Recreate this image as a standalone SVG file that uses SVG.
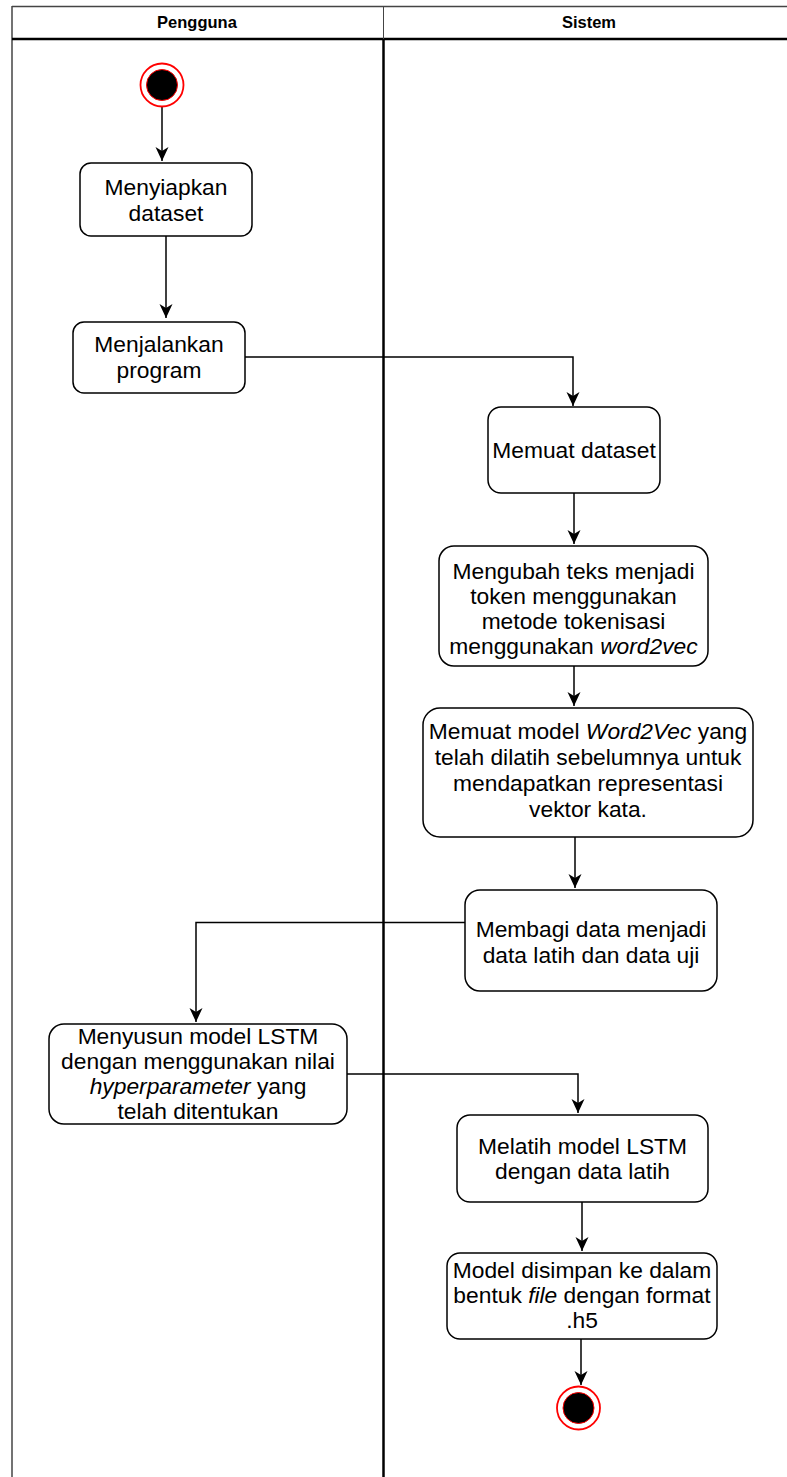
<svg xmlns="http://www.w3.org/2000/svg" width="787" height="1477" viewBox="0 0 787 1477">
  <style>
    .lbl { font-family: "Liberation Sans", Arial, sans-serif; font-size: 22.8px; fill: #000; text-anchor: middle; }
    .hdr { font-family: "Liberation Sans", Arial, sans-serif; font-size: 16.5px; font-weight: bold; fill: #000; text-anchor: middle; }
    .act { fill: #fff; stroke: #000; stroke-width: 1.5; }
    .edge { fill: none; stroke: #000; stroke-width: 1.5; }
    .ring { fill: #fff; stroke: #ff0000; stroke-width: 1.8; }
    .dot { fill: #000; stroke: #ff0000; stroke-width: 1; }
    .it { font-style: italic; }
  </style>
  <defs>
    <marker id="arrow" viewBox="0 0 14 14" refX="14" refY="7" markerWidth="14" markerHeight="14" markerUnits="userSpaceOnUse" orient="auto">
      <path d="M0,0.5 L14,7 L0,13.5 L4,7 Z" fill="#000"/>
    </marker>
  </defs>

  <rect width="787" height="1477" fill="#fff"/>

  <!-- swimlane pool -->
  <g id="pool">
    <line x1="12" y1="6.5" x2="787" y2="6.5" stroke="#444" stroke-width="1.5"/>
    <line x1="12" y1="6" x2="12" y2="1477" stroke="#444" stroke-width="1.5"/>
    <line x1="12" y1="39" x2="787" y2="39" stroke="#000" stroke-width="2.5"/>
    <line x1="383.5" y1="6" x2="383.5" y2="39" stroke="#444" stroke-width="1"/>
    <line x1="383.5" y1="39" x2="383.5" y2="1477" stroke="#000" stroke-width="2.5"/>
    <text class="hdr" x="197" y="28">Pengguna</text>
    <text class="hdr" x="589" y="28">Sistem</text>
  </g>

  <!-- connectors -->
  <g id="connectors">
    <path class="edge" d="M162,107 L162,161" marker-end="url(#arrow)"/>
    <path class="edge" d="M166,236 L166,318" marker-end="url(#arrow)"/>
    <path class="edge" d="M245,357 L573,357 L573,406" marker-end="url(#arrow)"/>
    <path class="edge" d="M574,493 L574,544" marker-end="url(#arrow)"/>
    <path class="edge" d="M574,666 L574,706" marker-end="url(#arrow)"/>
    <path class="edge" d="M575,837 L575,888" marker-end="url(#arrow)"/>
    <path class="edge" d="M465,922.5 L196,922.5 L196,1022" marker-end="url(#arrow)"/>
    <path class="edge" d="M347,1074 L578,1074 L578,1113" marker-end="url(#arrow)"/>
    <path class="edge" d="M582,1202 L582,1251" marker-end="url(#arrow)"/>
    <path class="edge" d="M581,1339 L581,1385" marker-end="url(#arrow)"/>
  </g>

  <g id="start">
    <circle class="ring" cx="162" cy="85" r="21.5"/>
    <circle class="dot" cx="162" cy="85" r="15.5"/>
  </g>

  <g id="menyiapkan">
    <rect class="act" x="80" y="163" width="172" height="73" rx="11"/>
    <text class="lbl" x="166" y="194.5">Menyiapkan</text>
    <text class="lbl" x="166" y="220.5">dataset</text>
  </g>

  <g id="menjalankan">
    <rect class="act" x="73" y="322" width="172" height="71" rx="11"/>
    <text class="lbl" x="159" y="352">Menjalankan</text>
    <text class="lbl" x="159" y="378">program</text>
  </g>

  <g id="memuat-dataset">
    <rect class="act" x="488" y="407" width="172" height="86" rx="13"/>
    <text class="lbl" x="574" y="458">Memuat dataset</text>
  </g>

  <g id="mengubah">
    <rect class="act" x="439" y="546" width="269" height="120" rx="15"/>
    <text class="lbl" x="573.5" y="579">Mengubah teks menjadi</text>
    <text class="lbl" x="573.5" y="604">token menggunakan</text>
    <text class="lbl" x="573.5" y="629">metode tokenisasi</text>
    <text class="lbl" x="573.5" y="654">menggunakan <tspan class="it">word2vec</tspan></text>
  </g>

  <g id="memuat-model">
    <rect class="act" x="423" y="708" width="330" height="129" rx="17"/>
    <text class="lbl" x="588" y="739">Memuat model <tspan class="it">Word2Vec</tspan> yang</text>
    <text class="lbl" x="588" y="765">telah dilatih sebelumnya untuk</text>
    <text class="lbl" x="588" y="791">mendapatkan representasi</text>
    <text class="lbl" x="588" y="817">vektor kata.</text>
  </g>

  <g id="membagi">
    <rect class="act" x="465" y="890" width="252" height="101" rx="15"/>
    <text class="lbl" x="591" y="937">Membagi data menjadi</text>
    <text class="lbl" x="591" y="963">data latih dan data uji</text>
  </g>

  <g id="menyusun">
    <rect class="act" x="49" y="1024" width="298" height="100" rx="15"/>
    <text class="lbl" x="198" y="1044">Menyusun model LSTM</text>
    <text class="lbl" x="198" y="1069">dengan menggunakan nilai</text>
    <text class="lbl" x="198" y="1094"><tspan class="it">hyperparameter</tspan> yang</text>
    <text class="lbl" x="198" y="1119">telah ditentukan</text>
  </g>

  <g id="melatih">
    <rect class="act" x="457" y="1115" width="251" height="87" rx="13"/>
    <text class="lbl" x="582.5" y="1154">Melatih model LSTM</text>
    <text class="lbl" x="582.5" y="1179">dengan data latih</text>
  </g>

  <g id="simpan">
    <rect class="act" x="447" y="1253" width="270" height="86" rx="13"/>
    <text class="lbl" x="582" y="1278">Model disimpan ke dalam</text>
    <text class="lbl" x="582" y="1303">bentuk <tspan class="it">file</tspan> dengan format</text>
    <text class="lbl" x="582" y="1328">.h5</text>
  </g>

  <g id="end">
    <circle class="ring" cx="578.5" cy="1408" r="21.5"/>
    <circle class="dot" cx="578.5" cy="1408" r="15.5"/>
  </g>
</svg>
